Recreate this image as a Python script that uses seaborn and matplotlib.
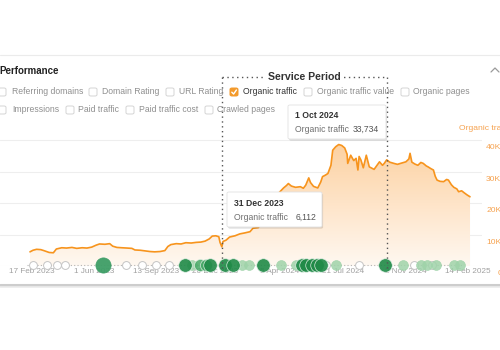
import numpy as np
import pandas as pd
import matplotlib
matplotlib.use("Agg")
import matplotlib.pyplot as plt
import matplotlib.dates as mdates
import matplotlib.transforms as mtransforms
from matplotlib.patches import FancyBboxPatch
from matplotlib.lines import Line2D
from matplotlib.colors import LinearSegmentedColormap
import matplotlib.patheffects as pe
import seaborn as sns

# ---------------- data ----------------
dates = [
    "2023-02-14", "2023-02-19", "2023-02-25", "2023-03-04", "2023-03-09", "2023-03-18",
    "2023-03-25", "2023-03-30", "2023-04-08", "2023-04-16", "2023-04-25", "2023-05-03",
    "2023-05-12", "2023-05-20", "2023-05-28", "2023-06-04", "2023-06-10", "2023-06-19",
    "2023-06-27", "2023-07-02", "2023-07-09", "2023-07-17", "2023-07-26", "2023-08-03",
    "2023-08-08", "2023-08-17", "2023-08-25", "2023-09-02", "2023-09-10", "2023-09-19",
    "2023-09-27", "2023-10-02", "2023-10-07", "2023-10-16", "2023-10-24", "2023-11-01",
    "2023-11-10", "2023-11-18", "2023-11-26", "2023-12-03", "2023-12-10", "2023-12-15",
    "2023-12-21", "2023-12-26", "2023-12-28", "2023-12-31", "2024-01-02", "2024-01-07",
    "2024-01-13", "2024-01-22", "2024-01-30", "2024-02-07", "2024-02-16", "2024-02-21",
    "2024-03-01", "2024-03-09", "2024-03-18", "2024-03-26", "2024-04-03", "2024-04-12",
    "2024-04-17", "2024-04-20", "2024-04-25", "2024-05-02", "2024-05-10", "2024-05-15",
    "2024-05-19", "2024-05-24", "2024-05-27", "2024-06-01", "2024-06-08", "2024-06-13",
    "2024-06-16", "2024-06-21", "2024-06-25", "2024-06-30", "2024-07-03", "2024-07-08",
    "2024-07-13", "2024-07-18", "2024-07-23", "2024-07-27", "2024-07-28", "2024-08-02",
    "2024-08-07", "2024-08-11", "2024-08-14", "2024-08-16", "2024-08-19", "2024-08-23",
    "2024-08-28", "2024-09-02", "2024-09-10", "2024-09-19", "2024-09-24", "2024-09-27",
    "2024-10-01", "2024-10-06", "2024-10-13", "2024-10-19", "2024-10-24", "2024-11-02",
    "2024-11-07", "2024-11-09", "2024-11-12", "2024-11-17", "2024-11-22", "2024-11-27",
    "2024-12-01", "2024-12-06", "2024-12-09", "2024-12-14", "2024-12-18", "2024-12-21",
    "2024-12-24", "2024-12-29", "2025-01-04", "2025-01-09", "2025-01-12", "2025-01-17",
    "2025-01-21", "2025-01-26", "2025-01-29", "2025-02-03", "2025-02-07", "2025-02-12",
    "2025-02-17",
]
organic_traffic = [
    4500, 5000, 5300, 5200, 4900, 4300,
    4200, 5400, 5800, 5700, 5900, 5600,
    5800, 5700, 6000, 6600, 7000, 6900,
    7100, 6300, 5900, 5800, 5700, 5600,
    5100, 5000, 4800, 4600, 4500, 4600,
    4900, 6200, 6800, 7100, 7000, 7400,
    7300, 7500, 7600, 7900, 8600, 9500,
    9600, 9300, 7500, 6112, 7800, 8200,
    9200, 9600, 10200, 10500, 10900, 12000,
    12200, 15500, 18000, 20500, 23000, 24800,
    25600, 26200, 25400, 25000, 25200, 24700,
    25700, 28000, 26500, 25300, 24800, 26700,
    28400, 28900, 29400, 32000, 36800, 37900,
    38600, 38300, 37500, 35500, 32600, 35200,
    33500, 34200, 30500, 34800, 33700, 31200,
    35200, 31500, 30700, 33100, 32000, 32600,
    33734, 33000, 32600, 32300, 32600, 33100,
    34000, 35800, 33000, 32400, 32000, 32900,
    32600, 31800, 31500, 30900, 30500, 28500,
    27300, 26900, 26800, 27500, 27300, 25800,
    25000, 24500, 23600, 23900, 23300, 22600,
    22000,
]

x_tick_dates = ["2023-02-17", "2023-06-01", "2023-09-13", "2023-12-20",
                "2024-04-05", "2024-07-21", "2024-11-02", "2025-02-14"]
x_tick_labels = ["17 Feb 2023", "1 Jun 2023", "13 Sep 2023", "20 Dec 2023",
                 "5 Apr 2024", "21 Jul 2024", "2 Nov 2024", "14 Feb 2025"]
y_ticks = [0, 10000, 20000, 30000, 40000]
y_tick_labels = ["0", "10K", "20K", "30K", "40K"]

service_period = ["2023-12-31", "2024-10-01"]
service_label = "Service Period"
tooltip_dates = ["31 Dec 2023", "1 Oct 2024"]
tooltip_values = ["6,112", "33,734"]
series_name = "Organic traffic"

metrics_row1 = ["Referring domains", "Domain Rating", "URL Rating",
                "Organic traffic", "Organic traffic value", "Organic pages"]
metrics_row2 = ["Impressions", "Paid traffic", "Paid traffic cost", "Crawled pages"]
checked_metric = "Organic traffic"

annot_dates = [
    "2023-02-19", "2023-03-14", "2023-03-31", "2023-04-13", "2023-06-15",
    "2023-07-25", "2023-08-20", "2023-09-13", "2023-10-04", "2023-10-30",
    "2023-11-11", "2023-11-24", "2023-12-04", "2023-12-12", "2024-01-05",
    "2024-01-18", "2024-02-02", "2024-02-15", "2024-03-09", "2024-04-08",
    "2024-05-02", "2024-05-12", "2024-05-20", "2024-05-29", "2024-06-06",
    "2024-06-13", "2024-06-22", "2024-07-08", "2024-08-16", "2024-09-29",
    "2024-10-28", "2024-11-15", "2024-11-27", "2024-12-08", "2024-12-15",
    "2024-12-23", "2025-01-22", "2025-02-01",
]
annot_kinds = [
    "note", "note", "note", "note", "big",
    "note", "note", "note", "note", "major",
    "minor", "update", "update", "major", "major",
    "major", "minor", "minor", "major", "minor",
    "minor", "major", "major", "major", "major",
    "major", "note", "minor", "note", "major",
    "minor", "note", "minor", "minor", "note",
    "minor", "minor", "minor",
]

# ---------------- styling ----------------
sns.set_theme(style="white")
plt.rcParams["font.family"] = ["Liberation Sans", "DejaVu Sans"]

W, H = 500, 350
fig = plt.figure(figsize=(W / 100, H / 100), dpi=100)
fig.patch.set_facecolor("white")


def fx(x):
    return x / W


def fy(y):
    return 1 - y / H


ax_left, ax_right, ax_top, ax_bottom = 0, 482, 125, 266
ax = fig.add_axes([fx(ax_left), fy(ax_bottom), (ax_right - ax_left) / W,
                   (ax_bottom - ax_top) / H])
ax.set_facecolor("none")

df = pd.DataFrame({"date": pd.to_datetime(dates), "traffic": organic_traffic})
xmin = pd.Timestamp("2022-12-26")
xmax = pd.Timestamp("2025-03-09")
ymax = 44800

# gradient fill under the curve
poly = ax.fill_between(df["date"], df["traffic"], 0, color="none", lw=0)
cmap = LinearSegmentedColormap.from_list("fade", ["#fff8f1", "#fee4c8", "#fcd09f"])
grad = np.linspace(1, 0, 256).reshape(-1, 1)
im = ax.imshow(grad, extent=[mdates.date2num(df["date"].min()), mdates.date2num(df["date"].max()),
                             0, 40000],
               aspect="auto", cmap=cmap, origin="upper", zorder=1)
im.set_clip_path(poly.get_paths()[0], transform=ax.transData)

sns.lineplot(data=df, x="date", y="traffic", ax=ax, color="#f7941d", lw=1.2, zorder=3)

ax.set_xlim(xmin, xmax)
ax.set_ylim(0, ymax)
ax.set_xlabel("")
ax.set_ylabel("")
for s in ax.spines.values():
    s.set_visible(False)

ax.set_yticks(y_ticks)
ax.set_yticklabels([])
ax.yaxis.grid(True, color="#eeeeee", lw=0.8)
ax.xaxis.grid(False)
ax.tick_params(axis="y", length=0)
ax.set_xticks(pd.to_datetime(x_tick_dates))
ax.set_xticklabels(x_tick_labels)
ax.tick_params(axis="x", length=0, pad=1.5, labelsize=5.9, labelcolor="#a0a0a0")

# right-side value labels (below gridlines)
ytrans = mtransforms.blended_transform_factory(ax.transAxes, ax.transData)
for v, lab in zip(y_ticks, y_tick_labels):
    dx = 11 if v == 0 else 3
    ax.text(1.0, v, lab, transform=ytrans + mtransforms.ScaledTranslation(dx / 72, -3 / 72, fig.dpi_scale_trans),
            ha="left", va="top", fontsize=6.1, color="#f6a24f", clip_on=False)
fig.text(fx(459), fy(129), series_name, ha="left", va="center", fontsize=6.1, color="#f6a24f")

# annotation markers along the bottom
ann = pd.DataFrame({"date": pd.to_datetime(annot_dates), "kind": annot_kinds})
ax.plot([ann["date"].min() - pd.Timedelta(days=10), ann["date"].max() + pd.Timedelta(days=5)],
        [300, 300], color="#b5b5b5", lw=0.8, ls=(0, (1, 2)), zorder=4, clip_on=False)
styles = {
    "note": dict(s=32, facecolor="white", edgecolor="#c4c4c4", linewidths=0.7, alpha=1.0),
    "big": dict(s=120, facecolor="#3e9e66", edgecolor="#3e9e66", linewidths=0.5, alpha=0.95),
    "major": dict(s=95, facecolor="#1f8a47", edgecolor="#e6f2ea", linewidths=0.5, alpha=0.9),
    "update": dict(s=75, facecolor="#45a865", edgecolor="#e6f2ea", linewidths=0.5, alpha=0.85),
    "minor": dict(s=50, facecolor="#9fd3a9", edgecolor="#9fd3a9", linewidths=0.5, alpha=0.85),
}
for kind in ["note", "minor", "update", "big", "major"]:
    sub = ann[ann["kind"] == kind]
    if len(sub):
        ax.scatter(sub["date"], [300] * len(sub), zorder=6, clip_on=False, **styles[kind])

# service period markers
sp = pd.to_datetime(service_period)
y_top_ax = (ax_bottom - 77) / (ax_bottom - ax_top)
y_bot_ax = (ax_bottom - 268) / (ax_bottom - ax_top)
for d in sp:
    ax.axvline(d, ymin=y_bot_ax, ymax=y_top_ax, color="#555555", lw=1.0,
               ls=(0, (1, 2.5)), clip_on=False, zorder=7)
xtrans = mtransforms.blended_transform_factory(ax.transData, ax.transAxes)
ax.plot([sp[0], sp[1]], [y_top_ax, y_top_ax], transform=xtrans, color="#555555", lw=1.0,
        ls=(0, (1, 2.5)), clip_on=False, zorder=7)
mid = sp[0] + (sp[1] - sp[0]) / 2
ax.text(mid, y_top_ax, service_label, transform=xtrans, ha="center", va="center",
        fontsize=7.6, fontweight="bold", color="#333333", zorder=8,
        bbox=dict(facecolor="white", edgecolor="none", pad=1.5))

# tooltips
tips = [
    dict(box=(227, 192, 322, 227), title_xy=(234, 203), label_y=217, val_x=316,
         title=tooltip_dates[0], value=tooltip_values[0]),
    dict(box=(288, 105, 386, 139), title_xy=(295, 116), label_y=129, val_x=379,
         title=tooltip_dates[1], value=tooltip_values[1]),
]
for t in tips:
    x0, y0, x1, y1 = t["box"]
    rect = FancyBboxPatch((fx(x0), fy(y1)), fx(x1 - x0), (y1 - y0) / H,
                          boxstyle="round,pad=0,rounding_size=0.004",
                          transform=fig.transFigure, facecolor="white", edgecolor="#e2e2e2",
                          lw=0.6, zorder=20,
                          path_effects=[pe.withSimplePatchShadow(offset=(0.8, -1.2), shadow_rgbFace="#000000", alpha=0.12)])
    fig.add_artist(rect)
    fig.text(fx(t["title_xy"][0]), fy(t["title_xy"][1]), t["title"], ha="left", va="center",
             fontsize=6.2, fontweight="bold", color="#333333", zorder=21)
    fig.text(fx(t["title_xy"][0]), fy(t["label_y"]), series_name, ha="left", va="center",
             fontsize=6.2, color="#6f6f6f", zorder=21)
    fig.text(fx(t["val_x"]), fy(t["label_y"]), t["value"], ha="right", va="center",
             fontsize=6.2, color="#555555", zorder=21)

# ---------------- header UI ----------------
fig.add_artist(Line2D([0, 1], [fy(55), fy(55)], transform=fig.transFigure, color="#ebebeb", lw=0.8))
fig.add_artist(Line2D([0, 1], [fy(284.5), fy(284.5)], transform=fig.transFigure, color="#cdcdcd", lw=2.2))
fig.add_artist(Line2D([0, 1], [fy(287), fy(287)], transform=fig.transFigure, color="#ececec", lw=1.2))
fig.text(fx(-1), fy(71), "Performance", ha="left", va="center", fontsize=7, fontweight="bold", color="#222222")
fig.add_artist(Line2D([fx(491), fx(495), fx(499)], [fy(72), fy(68), fy(72)],
                      transform=fig.transFigure, color="#9a9a9a", lw=0.9))

row1_box_x = [-2, 89, 166, 230, 304, 401]
row1_lab_x = [12, 102, 179, 243, 317, 413]
row2_box_x = [-2, 66, 126, 205]
row2_lab_x = [12, 78, 139, 217]
for labels, bxs, lxs, yc in [(metrics_row1, row1_box_x, row1_lab_x, 92),
                              (metrics_row2, row2_box_x, row2_lab_x, 110)]:
    for lab, bx, lx in zip(labels, bxs, lxs):
        is_checked = lab == checked_metric
        box = FancyBboxPatch((fx(bx), fy(yc + 4)), fx(8), 8 / H,
                             boxstyle="round,pad=0,rounding_size=0.004",
                             transform=fig.transFigure,
                             facecolor="#f39a2b" if is_checked else "white",
                             edgecolor="#f39a2b" if is_checked else "#d4d4d4", lw=0.7)
        fig.add_artist(box)
        if is_checked:
            fig.add_artist(Line2D([fx(bx + 1.8), fx(bx + 3.6), fx(bx + 6.4)],
                                  [fy(yc + 0.2), fy(yc + 2), fy(yc - 2)],
                                  transform=fig.transFigure, color="white", lw=1.0))
        fig.text(fx(lx), fy(yc), lab, ha="left", va="center", fontsize=6.2,
                 color="#333333" if is_checked else "#8f8f8f")

fig.savefig("out.png", dpi=100, facecolor="white")
